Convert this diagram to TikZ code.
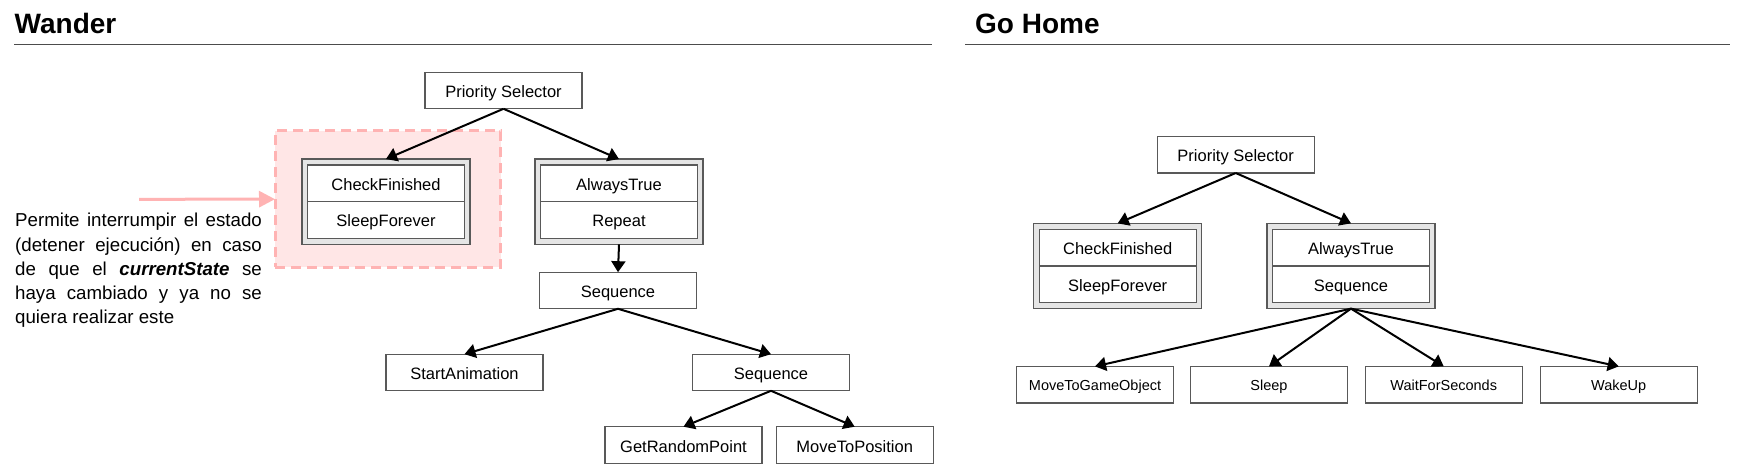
\documentclass[tikz,border=0pt]{standalone}
\usepackage{fontspec}
\setmainfont{Liberation Sans}
\usetikzlibrary{positioning,arrows.meta}

\definecolor{pinkfill}{HTML}{FFE6E6}
\definecolor{pinkline}{HTML}{FFB3B3}

\def\ux{1pt}
\def\uy{1pt}

\begin{document}
\begin{tikzpicture}[x=\ux,y=-\uy,font=\fontsize{16.5}{19}\selectfont]
		\tikzset{
			box/.style={draw=black!65, line width=1.2pt, fill=white, outer sep=0pt, inner sep=0pt,
				minimum width=157pt, minimum height=36.6pt, text height=14pt, text depth=0pt},
			leaf/.style={box, font=\fontsize{14.5}{17}\selectfont, text height=11pt},
			pair/.style={draw=black!65, line width=1.5pt, fill=black!10, outer sep=0pt,
				minimum width=168pt, minimum height=85.3pt},
			link/.style={-{Triangle[length=11pt,width=14pt]}, line width=2pt},
			title/.style={font=\fontsize{28}{32}\selectfont\bfseries, anchor=base west, inner sep=0pt},
			rule/.style={line width=1.5pt, black!70},
			note/.style={font=\fontsize{18.7}{24}\selectfont, anchor=base west, inner sep=0pt},
			markbox/.style={draw=pinkline, fill=pinkfill, line width=3pt, dash pattern=on 10pt off 6pt,
				minimum width=225.7pt, minimum height=136.3pt, outer sep=0pt},
			pinkarrow/.style={-{Triangle[length=16pt,width=16pt]}, line width=3pt, pinkline},
		}
		\useasboundingbox (0,0) rectangle (1750,476);

		\node[title] (wander) at (14.5,34) {Wander};
		\node[title] (gohome) at (975,34) {Go Home};
		\draw[rule] (14,44.3) -- (932,44.3);
		\draw[rule] (965,44.3) -- (1730,44.3);

		\node[markbox] (interrupt) at (387.85,199.15) {};
		\coordinate (from) at (139,199.3);
		\draw[pinkarrow] (from) -- (interrupt.west);

		\node[note] (note1) at (15,226.7) {\makebox[246.7pt][s]{Permite interrumpir el estado}};
		\node[note] (note2) at (15,251) {\makebox[246.7pt][s]{(detener ejecución) en caso}};
		\node[note] (note3) at (15,275.3) {\makebox[246.7pt][s]{de que el \textbf{\textit{currentState}} se}};
		\node[note] (note4) at (15,299.6) {\makebox[246.7pt][s]{haya cambiado y ya no se}};
		\node[note] (note5) at (15,323.9) {quiera realizar este};

		\node[box] (psL) at (503.5,90.5) {Priority Selector};
		\node[pair] (cfL) at (386,201.7) {};
		\node[box, below=6pt of cfL.north] (cfL1) {CheckFinished};
		\node[box, below=0pt of cfL1] (cfL2) {SleepForever};
		\node[pair] (atL) at (619,201.7) {};
		\node[box, below=6pt of atL.north] (atL1) {AlwaysTrue};
		\node[box, below=0pt of atL1] (atL2) {Repeat};
		\node[box] (seqL) at (618,290.5) {Sequence};
		\node[box] (saL) at (464.5,372.5) {StartAnimation};
		\node[box] (seqL2) at (771,372.5) {Sequence};
		\node[box] (grpL) at (683.5,445) {GetRandomPoint};
		\node[box] (mtpL) at (854.7,445) {MoveToPosition};

		\draw[link] (psL.south) -- (cfL.north);
		\draw[link] (psL.south) -- (atL.north);
		\draw[link] (atL.south) -- (seqL.north);
		\foreach \n in {saL,seqL2}{
			\draw[link] (seqL.south) -- (\n.north);
		}
		\foreach \n in {grpL,mtpL}{
			\draw[link] (seqL2.south) -- (\n.north);
		}

		\node[box] (psR) at (1235.7,154.7) {Priority Selector};
		\node[pair] (cfR) at (1117.7,266) {};
		\node[box, below=6pt of cfR.north] (cfR1) {CheckFinished};
		\node[box, below=0pt of cfR1] (cfR2) {SleepForever};
		\node[pair] (atR) at (1351,266) {};
		\node[box, below=6pt of atR.north] (atR1) {AlwaysTrue};
		\node[box, below=0pt of atR1] (atR2) {Sequence};

		\draw[link] (psR.south) -- (cfR.north);
		\draw[link] (psR.south) -- (atR.north);
		\foreach \n/\x/\t in {mgR/1095/MoveToGameObject, slR/1269/Sleep, wsR/1443.7/WaitForSeconds, wuR/1618.7/WakeUp}{
			\node[leaf] (\n) at (\x,384.7) {\t};
			\draw[link] (atR.south) -- (\n.north);
		}
\end{tikzpicture}
\end{document}
